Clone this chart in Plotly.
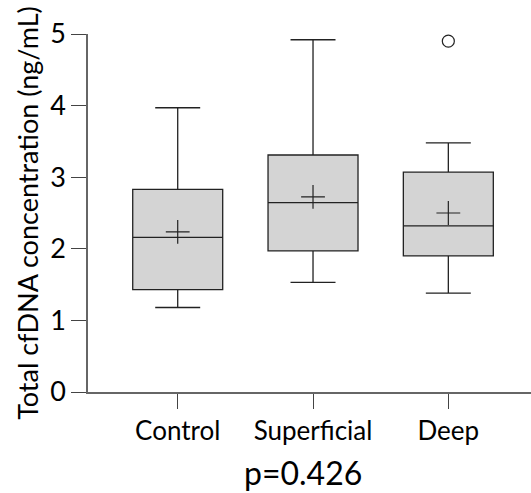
import plotly.graph_objects as go

categories = ["Control", "Superficial", "Deep"]
q1 = [1.43, 1.97, 1.90]
median = [2.16, 2.645, 2.32]
q3 = [2.83, 3.31, 3.07]
lower_whisker = [1.18, 1.53, 1.38]
upper_whisker = [3.97, 4.92, 3.48]
means = [2.235, 2.725, 2.50]
outlier_cats = ["Deep"]
outlier_vals = [4.90]
y_ticks = [0, 1, 2, 3, 4, 5]
p_text = "p=0.426"

FONT = "Lato"
fig = go.Figure()
fig.add_trace(go.Box(
    x=categories, q1=q1, median=median, q3=q3,
    lowerfence=lower_whisker, upperfence=upper_whisker,
    width=0.665, whiskerwidth=0.5,
    fillcolor="#d4d4d4", line=dict(color="#222222", width=1.3),
    boxpoints=False, showlegend=False, hoverinfo="skip",
))
fig.add_trace(go.Scatter(
    x=categories, y=means, mode="markers", showlegend=False,
    marker=dict(symbol="cross-thin", size=17, line=dict(color="#222222", width=1.2)),
))
fig.add_trace(go.Scatter(
    x=outlier_cats, y=outlier_vals, mode="markers", showlegend=False,
    marker=dict(symbol="circle-open", size=12, color="#222222", line=dict(color="#222222", width=1.2)),
))

fig.update_layout(
    width=531, height=493,
    margin=dict(l=88, r=0, t=33.5, b=101),
    plot_bgcolor="white", paper_bgcolor="white",
    font=dict(family=FONT, size=26, color="black"),
    xaxis=dict(
        type="category", range=[-0.663, 2.611],
        showline=True, linecolor="#666666", linewidth=1.5,
        ticks="outside", ticklen=15, tickcolor="#444444", tickwidth=1,
        showgrid=False, zeroline=False,
        tickfont=dict(family=FONT, size=26, color="black"),
    ),
    yaxis=dict(
        range=[0, 5], tickvals=y_ticks,
        showline=True, linecolor="#666666", linewidth=1.5,
        ticks="outside", ticklen=15, tickcolor="#444444", tickwidth=1,
        showgrid=False, zeroline=False,
        tickfont=dict(family=FONT, size=27, color="black"),
    ),
    annotations=[
        dict(text="Total cfDNA concentration (ng/mL)", textangle=-90,
             xref="paper", yref="paper", x=-0.138, y=0.5,
             xanchor="center", yanchor="middle", showarrow=False,
             font=dict(family=FONT, size=27, color="black")),
        dict(text=p_text, xref="paper", yref="paper", x=0.485, y=-0.226,
             xanchor="center", yanchor="middle", showarrow=False,
             font=dict(family=FONT, size=32, color="black")),
    ],
)
fig.write_html("out.html", config={"displayModeBar": False},
               post_script="document.body.style.margin='0';")
